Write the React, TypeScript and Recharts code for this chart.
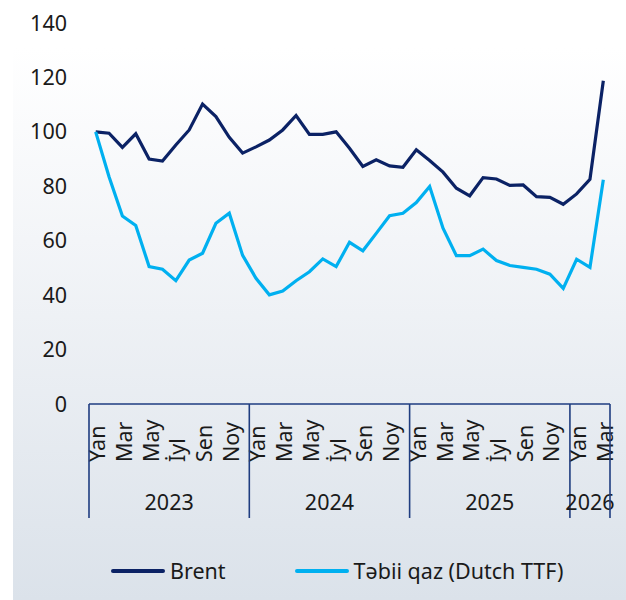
import React from 'react';
import { LineChart, Line, XAxis, YAxis } from 'recharts';

const years = [2023, 2024, 2025, 2026];
const monthsPerYear = [12, 12, 12, 3];
const monthNames = ['Yan', 'Fev', 'Mar', 'Apr', 'May', 'İyn', 'İyl', 'Avq', 'Sen', 'Okt', 'Noy', 'Dek'];

const brent = [
  100, 99.5, 94.3, 99.3, 90, 89.3, 95.2, 100.7, 110.2, 105.6, 98, 92.2,
  94.5, 97, 100.7, 106, 99.1, 99.1, 100, 94, 87.3, 89.7, 87.5, 87,
  93.4, 89.5, 85.2, 79.3, 76.5, 83.2, 82.7, 80.3, 80.5, 76.2, 75.9, 73.4,
  77.2, 82.6, 118.8,
];
const ttf = [
  100, 83.5, 69.1, 65.6, 50.5, 49.5, 45.3, 52.9, 55.4, 66.4, 70.1, 54.6,
  46.2, 40.1, 41.5, 45.3, 48.6, 53.3, 50.5, 59.4, 56.3, 62.7, 69.2, 70.1,
  74, 79.9, 64.6, 54.5, 54.5, 56.9, 52.7, 50.9, 50.2, 49.5, 47.7, 42.5,
  53.2, 50.2, 82.4,
];
const yTicks = [0, 20, 40, 60, 80, 100, 120, 140];

const seriesNames = ['Brent', 'Təbii qaz (Dutch TTF)'];
const seriesColors = ['#0b2265', '#00b0f0'];

type Row = { key: string; year: number; month: number; yearIdx: number; brent: number; ttf: number };
const data: Row[] = [];
{
  let i = 0;
  years.forEach((yr, yi) => {
    for (let m = 0; m < monthsPerYear[yi]; m++) {
      data.push({ key: `${yr}-${m + 1}`, year: yr, month: m, yearIdx: yi, brent: brent[i], ttf: ttf[i] });
      i++;
    }
  });
}

const FONT = '"Noto Sans", "Open Sans", sans-serif';
const FS = 21.5;
const AXIS_COLOR = '#1f3d80';
const TEXT_COLOR = '#1a1a1a';

const MonthTick = (props: any) => {
  const { x, y, payload } = props;
  const idx = payload?.index ?? props.index;
  const d = data[idx];
  if (!d) return null;
  const off = payload?.offset ?? 0;
  const els: React.ReactNode[] = [];
  if (d.month % 2 === 0) {
    const tx = x + 9.5;
    const ty = y + 58;
    els.push(
      <text key="m" x={tx} y={ty} transform={`rotate(-90 ${tx} ${ty})`} textAnchor="start"
        fontSize={FS} fontFamily={FONT} fill={TEXT_COLOR}>
        {monthNames[d.month]}
      </text>
    );
  }
  if (d.month === 0) {
    const n = monthsPerYear[d.yearIdx];
    els.push(<line key="s" x1={x - off} x2={x - off} y1={y} y2={y + 114} stroke={AXIS_COLOR} strokeWidth={1.6} />);
    els.push(
      <text key="y" x={x + (n - 1) * off} y={y + 106} textAnchor="middle" fontSize={FS} fontFamily={FONT} fill={TEXT_COLOR}>
        {d.year}
      </text>
    );
  }
  if (idx === data.length - 1) {
    els.push(<line key="e" x1={x + off} x2={x + off} y1={y} y2={y + 114} stroke={AXIS_COLOR} strokeWidth={1.6} />);
  }
  return <g>{els}</g>;
};

export default function App() {
  return (
    <div style={{ position: 'absolute', left: 0, top: 0, width: 626, height: 600, background: '#ffffff', overflow: 'hidden' }}>
      <div style={{
        position: 'absolute', left: 13, top: 0, width: 613, height: 600,
        background: 'linear-gradient(to bottom, #ffffff 0%, #ffffff 8%, #f3f5f8 40%, #dbe2ea 100%)',
      }} />
      <div style={{ position: 'absolute', left: 0, top: 0 }}>
        <LineChart width={626} height={600} data={data} margin={{ top: 23, right: 16, bottom: 76, left: 0 }}>
          <XAxis dataKey="key" scale="band" interval={0} height={120} tickSize={0} tickMargin={0}
            axisLine={{ stroke: AXIS_COLOR, strokeWidth: 1.6 }} tickLine={false} tick={<MonthTick />} />
          <YAxis width={89} domain={[0, 140]} ticks={yTicks} axisLine={false} tickLine={false}
            tickSize={0} tickMargin={22}
            tick={{ fontSize: FS, fontFamily: FONT, fill: TEXT_COLOR }} />
          <Line dataKey="brent" name={seriesNames[0]} stroke={seriesColors[0]} strokeWidth={3.2}
            dot={false} isAnimationActive={false} strokeLinejoin="miter" />
          <Line dataKey="ttf" name={seriesNames[1]} stroke={seriesColors[1]} strokeWidth={3.2}
            dot={false} isAnimationActive={false} strokeLinejoin="miter" />
        </LineChart>
      </div>
      <div style={{ position: 'absolute', left: 111, top: 556, display: 'flex', alignItems: 'center', fontFamily: FONT, fontSize: FS, color: TEXT_COLOR }}>
        {seriesNames.map((nm, i) => (
          <div key={nm} style={{ display: 'flex', alignItems: 'center', marginRight: i === 0 ? 69 : 0 }}>
            <div style={{ width: 54, height: 4, background: seriesColors[i], borderRadius: 2, marginRight: 5 }} />
            <span style={{ lineHeight: '30px' }}>{nm}</span>
          </div>
        ))}
      </div>
    </div>
  );
}
